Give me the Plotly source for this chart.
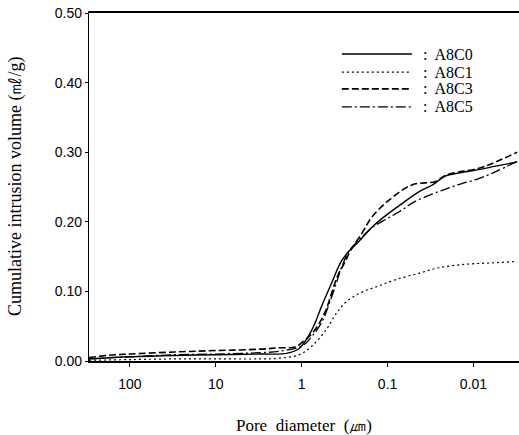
import plotly.graph_objects as go

# ---- data (pore diameter in µm, cumulative intrusion volume in ml/g) ----
d_c0 = [300, 100, 30, 10, 3, 1.5, 1.07, 0.753, 0.577, 0.442, 0.347, 0.281, 0.215, 0.15, 0.10,
        0.07, 0.0433, 0.03, 0.021, 0.0149, 0.0087, 0.0055, 0.0031]
v_c0 = [0.003, 0.006, 0.008, 0.009, 0.010, 0.011, 0.018, 0.046, 0.081, 0.114, 0.143, 0.158, 0.172,
        0.193, 0.211, 0.225, 0.243, 0.253, 0.266, 0.270, 0.275, 0.280, 0.286]

d_c1 = [300, 100, 30, 10, 3, 1.82, 1.07, 0.753, 0.519, 0.397, 0.304, 0.198, 0.126, 0.080, 0.0433,
        0.0254, 0.0123, 0.00615, 0.0031]
v_c1 = [0.001, 0.002, 0.003, 0.003, 0.003, 0.004, 0.009, 0.022, 0.045, 0.068, 0.085, 0.099, 0.108,
        0.117, 0.126, 0.134, 0.139, 0.141, 0.143]

d_c3 = [300, 150, 100, 30, 10, 3, 1.82, 1.2, 0.98, 0.753, 0.593, 0.505, 0.442, 0.386, 0.321, 0.266,
        0.198, 0.152, 0.0964, 0.0521, 0.0275, 0.021, 0.0087, 0.0055, 0.0031]
v_c3 = [0.005, 0.009, 0.010, 0.013, 0.015, 0.017, 0.019, 0.020, 0.027, 0.040, 0.059, 0.078, 0.100,
        0.121, 0.140, 0.160, 0.184, 0.207, 0.231, 0.253, 0.258, 0.267, 0.277, 0.286, 0.300]

d_c5 = [300, 100, 30, 10, 3, 1.82, 0.98, 0.753, 0.577, 0.47, 0.40, 0.347, 0.281, 0.215, 0.15, 0.10,
        0.07, 0.05, 0.03, 0.02, 0.0137, 0.0087, 0.0055, 0.0031]
v_c5 = [0.003, 0.006, 0.009, 0.010, 0.012, 0.014, 0.022, 0.036, 0.057, 0.085, 0.110, 0.133, 0.158,
        0.174, 0.192, 0.205, 0.216, 0.228, 0.240, 0.248, 0.255, 0.262, 0.272, 0.287]

names = ["A8C0", "A8C1", "A8C3", "A8C5"]
dashes = ["solid", "2px,3px", "7px,3px", "10px,3px,2px,3px"]
widths = [1.4, 1.2, 1.6, 1.3]

x_ticks = [100, 10, 1, 0.1, 0.01]
x_tick_text = ["100", "10", "1", "0.1", "0.01"]
y_ticks = [0.0, 0.1, 0.2, 0.3, 0.4, 0.5]
y_tick_text = ["0.00", "0.10", "0.20", "0.30", "0.40", "0.50"]

series = [(d_c0, v_c0), (d_c1, v_c1), (d_c3, v_c3), (d_c5, v_c5)]

fig = go.Figure()
for (xs, ys), nm, ds, w in zip(series, names, dashes, widths):
    fig.add_trace(go.Scatter(x=xs, y=ys, mode="lines", name=nm, line_shape="spline",
                             line=dict(color="black", dash=ds, width=w), showlegend=False))

# legend drawn as line sample + ": name"
leg_y = [0.882, 0.830, 0.782, 0.730]
for nm, ds, w, yy in zip(names, dashes, widths, leg_y):
    fig.add_shape(type="line", xref="paper", yref="paper", x0=0.588, x1=0.751, y0=yy, y1=yy,
                  line=dict(color="black", dash=ds, width=w))
    fig.add_annotation(xref="paper", yref="paper", x=0.772, y=yy, xanchor="left", yanchor="middle",
                       text=":  " + nm, showarrow=False,
                       font=dict(family="Liberation Serif", size=16, color="black"))

serif = "Liberation Serif"
fig.add_annotation(xref="paper", yref="paper", x=0.5, y=-0.184, xanchor="center", yanchor="middle",
                   text="Pore  diameter  (㎛)", showarrow=False,
                   font=dict(family=serif, size=17, color="black"))
fig.add_annotation(xref="paper", yref="paper", x=-0.172, y=0.5, xanchor="center", yanchor="middle",
                   text="Cumulative intrusion volume (㎖/g)", showarrow=False, textangle=-90,
                   font=dict(family=serif, size=18, color="black"))

fig.update_xaxes(type="log", range=[2.477, -2.53], tickvals=x_ticks, ticktext=x_tick_text,
                 showline=True, linecolor="black", linewidth=1.8, mirror=True,
                 ticks="outside", ticklen=4, tickcolor="black", ticklabelstandoff=5,
                 showgrid=False, zeroline=False,
                 tickfont=dict(family="Liberation Sans", size=14, color="black"))
fig.update_yaxes(range=[0, 0.5], tickvals=y_ticks, ticktext=y_tick_text,
                 showline=True, linecolor="black", linewidth=1.4, mirror=False,
                 ticks="outside", ticklen=3, tickcolor="black",
                 showgrid=False, zeroline=False,
                 tickfont=dict(family="Liberation Sans", size=14, color="black"))

fig.update_layout(width=519, height=435, margin=dict(l=89, r=0, t=13, b=74),
                  plot_bgcolor="white", paper_bgcolor="white")

fig.write_html("out.html")
